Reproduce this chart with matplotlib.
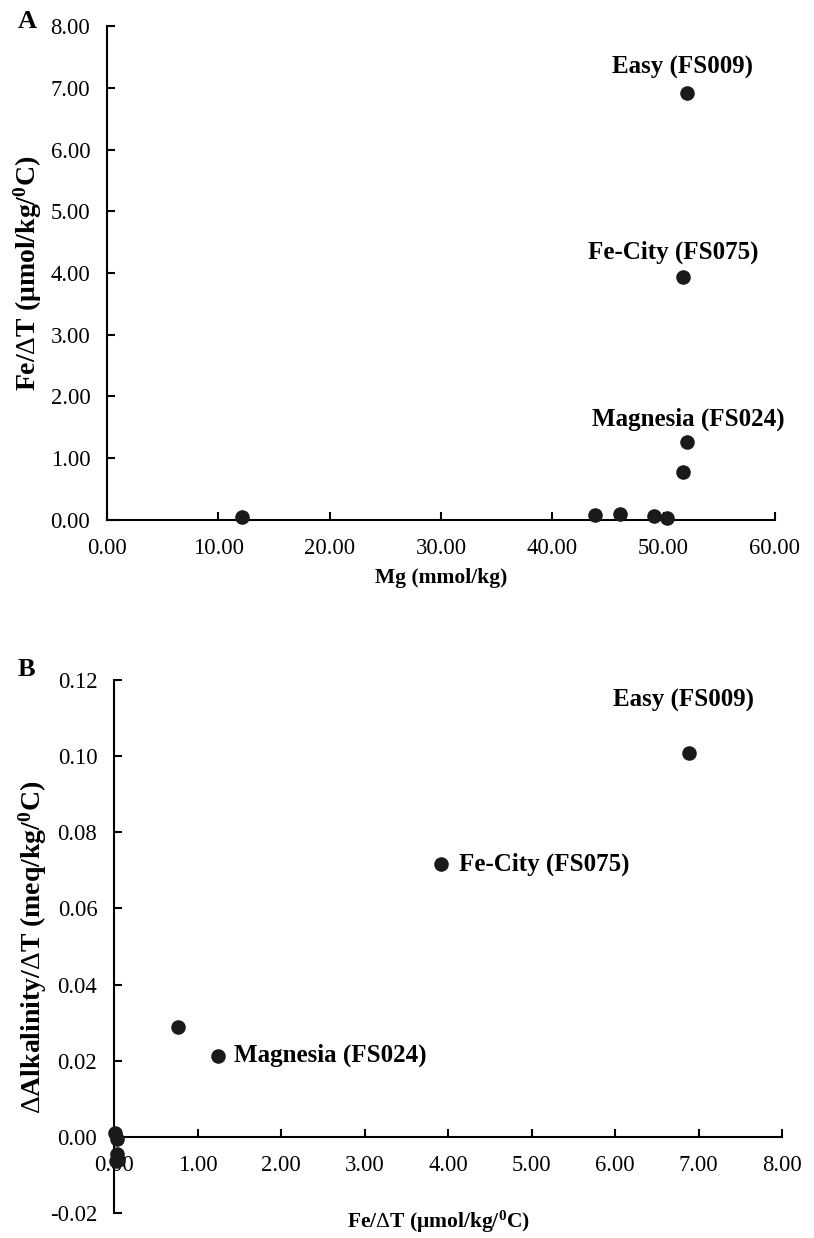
import numpy as np
import matplotlib
matplotlib.use('Agg')
import matplotlib.pyplot as plt

#serif look of the original figure
plt.rcParams['font.family'] = ['Liberation Serif', 'DejaVu Serif']
plt.rcParams['mathtext.fontset'] = 'custom'
plt.rcParams['mathtext.rm'] = 'Liberation Serif'
plt.rcParams['mathtext.bf'] = 'Liberation Serif:bold'
plt.rcParams['mathtext.it'] = 'Liberation Serif:italic'

# panel A : Mg vs Fe/dT
mg = [12.1, 43.8, 46.1, 49.1, 50.3, 51.7, 52.1, 51.75, 52.1]
fe_a = [0.05, 0.08, 0.10, 0.07, 0.03, 0.78, 1.27, 3.93, 6.92]

# panel B : Fe/dT vs dAlk/dT
fe_b = [0.01, 0.04, 0.03, 0.05, 0.02, 0.77, 1.25, 3.92, 6.89]
alk_b = [0.001, -0.0005, -0.0045, -0.0060, -0.0063, 0.0289, 0.0213, 0.0717, 0.1008]

# named vents (index into the arrays above)
names = ['Magnesia (FS024)', 'Fe-City (FS075)', 'Easy (FS009)']
name_idx = [6, 7, 8]

xticks_a = [0, 10, 20, 30, 40, 50, 60]
yticks_a = [0, 1, 2, 3, 4, 5, 6, 7, 8]
xticks_b = [0, 1, 2, 3, 4, 5, 6, 7, 8]
yticks_b = [-0.02, 0.0, 0.02, 0.04, 0.06, 0.08, 0.10, 0.12]

W, H = 814, 1238
fig = plt.figure(figsize=(W/100., H/100.), dpi=100)

lw = 1.5
fs_tick = 16.3
fs_lab = 15.5
fs_ylab = 20
fs_ann = 18
ms = 10.5

def style(ax):
	for s in ['top', 'right']:
		ax.spines[s].set_visible(False)
	for s in ['left', 'bottom']:
		ax.spines[s].set_linewidth(lw)
	ax.tick_params(direction='in', length=6, width=lw, labelsize=fs_tick)
	ax.tick_params(axis='x', pad=13)
	ax.tick_params(axis='y', pad=12)

# ---- panel A
axA = fig.add_axes([107/W, 1-520/H, (775-107)/W, (520-26)/H])
axA.plot(mg, fe_a, 'o', color='#1a1a1a', ms=ms, mew=0, clip_on=False, zorder=3)
axA.set_xlim(0, 60)
axA.set_ylim(0, 8)
axA.set_xticks(xticks_a)
axA.set_yticks(yticks_a)
axA.set_xticklabels(['%.2f' % v for v in xticks_a])
axA.set_yticklabels(['%.2f' % v for v in yticks_a])
style(axA)

offA = [(1, 16), (-7, 18), (-3, 18)]
for n, i, o in zip(names, name_idx, offA):
	axA.annotate(n, (mg[i], fe_a[i]), xytext=o, textcoords='offset points',
		ha='center', va='center', fontsize=fs_ann, fontweight='bold')

fig.text(441/W, 1-578/H, 'Mg (mmol/kg)', ha='center', va='center', fontsize=fs_lab, fontweight='bold')
fig.text(28/W, 1-273/H, r'Fe/$\Delta$T ($\mathbf{\mu}$mol/kg/$^{\mathbf{0}}$C)', rotation=90,
	ha='center', va='center', fontsize=fs_ylab, fontweight='bold')
fig.text(27/W, 1-22/H, 'A', ha='center', va='center', fontsize=19, fontweight='bold')

# ---- panel B
axB = fig.add_axes([114/W, 1-1213/H, (782-114)/W, (1213-680)/H])
axB.plot(fe_b, alk_b, 'o', color='#1a1a1a', ms=ms, mew=0, clip_on=False, zorder=3)
axB.set_xlim(0, 8)
axB.set_ylim(-0.02, 0.12)
axB.set_xticks(xticks_b)
axB.set_yticks(yticks_b)
axB.set_xticklabels(['%.2f' % v for v in xticks_b])
axB.set_yticklabels(['%.2f' % v for v in yticks_b])
style(axB)
axB.spines['bottom'].set_position(('data', 0))

offB = [(11, 0), (13, 0), (-4, 38)]
for n, i, o in zip(names, name_idx, offB):
	ha = 'center' if o[1] != 0 else 'left'
	axB.annotate(n, (fe_b[i], alk_b[i]), xytext=o, textcoords='offset points',
		ha=ha, va='center', fontsize=fs_ann, fontweight='bold')

fig.text(438/W, 1-1222/H, r'Fe/$\Delta$T ($\mathbf{\mu}$mol/kg/$^{\mathbf{0}}$C)',
	ha='center', va='center', fontsize=fs_lab, fontweight='bold')
fig.text(33/W, 1-947/H, r'$\Delta$Alkalinity/$\Delta$T (meq/kg/$^{\mathbf{0}}$C)', rotation=90,
	ha='center', va='center', fontsize=fs_ylab, fontweight='bold')
fig.text(26/W, 1-670/H, 'B', ha='center', va='center', fontsize=19, fontweight='bold')

fig.savefig('out.png', dpi=100)
